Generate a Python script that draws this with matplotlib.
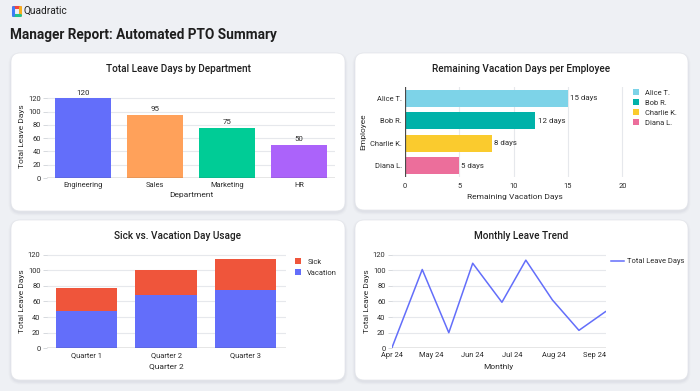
import matplotlib
matplotlib.use("Agg")
import matplotlib.pyplot as plt
from matplotlib.patches import FancyBboxPatch, Patch
import matplotlib.dates as mdates
import numpy as np
import pandas as pd

plt.rcParams['font.family'] = ['Roboto', 'DejaVu Sans']

# ---------------- data ----------------
departments = ["Engineering", "Sales", "Marketing", "HR"]
dept_leave = [120, 95, 75, 50]
dept_colors = ["#636EFA", "#FFA15A", "#00CC96", "#AB63FA"]

employees = ["Alice T.", "Bob R.", "Charlie K.", "Diana L."]
remaining_days = [15, 12, 8, 5]
emp_colors = ["#7DD3E8", "#00B2A9", "#FACB2E", "#EC6E9B"]

quarters = ["Quarter 1", "Quarter 2", "Quarter 3"]
vacation_days = [48, 68, 75]
sick_days = [29, 32, 40]

trend_dates = ["2024-04-01", "2024-04-24", "2024-05-14", "2024-06-01", "2024-06-23",
               "2024-07-11", "2024-07-31", "2024-08-20", "2024-09-09"]
trend_values = [0, 101, 20, 109, 59, 113, 62, 23, 47]

W, H = 700, 391
fig = plt.figure(figsize=(W / 100, H / 100), dpi=100)
fig.patch.set_facecolor("#EEF0F4")

TXT = "#2B2B2B"
GRID = "#E6E8EC"
AXL = "#4A4A4A"

# background pixel-space axes
bg = fig.add_axes([0, 0, 1, 1])
bg.set_xlim(0, W)
bg.set_ylim(H, 0)
bg.axis("off")
bg.set_zorder(-10)


def card(l, t, r, b):
    for i, a in enumerate([0.05, 0.04, 0.03]):
        e = 1 + i
        bg.add_patch(FancyBboxPatch((l - e + 0.5, t - e + 2.5), r - l + 2 * e - 1, b - t + 2 * e - 1,
                                    boxstyle="round,pad=0,rounding_size=%g" % (9 + e),
                                    fc="#7A8090", ec="none", alpha=a))
    bg.add_patch(FancyBboxPatch((l, t), r - l, b - t,
                                boxstyle="round,pad=0,rounding_size=9",
                                fc="white", ec="#E3E5EA", lw=0.5))


card(11, 53, 345, 211)
card(355, 53, 688, 210)
card(11, 220, 345, 380)
card(355, 220, 688, 380)

# header
logo_cols = ["#F2453D", "#F6B01E", "#22C38E", "#3D7BF7"]
bg.plot([12.5, 19.5], [6.5, 6.5], color=logo_cols[0], lw=2.2, solid_capstyle="round")
bg.plot([19.5, 19.5], [6.5, 14.5], color=logo_cols[1], lw=2.2, solid_capstyle="round")
bg.plot([19.5, 12.5], [14.5, 14.5], color=logo_cols[2], lw=2.2, solid_capstyle="round")
bg.plot([12.5, 12.5], [14.5, 6.5], color=logo_cols[3], lw=2.2, solid_capstyle="round")
bg.text(24, 11, "Quadratic", fontsize=7.3, color="#1E1E1E", va="center", ha="left")
bg.text(10.5, 35, "Manager Report: Automated PTO Summary", fontsize=9.8, fontweight="bold",
        color="#1E1E1E", va="center", ha="left")


def px_axes(l, t, r, b):
    return fig.add_axes([l / W, 1 - b / H, (r - l) / W, (b - t) / H])


def style(ax):
    for s in ax.spines.values():
        s.set_visible(False)
    ax.tick_params(labelsize=5.4, colors=TXT, length=3, width=0.6, color="#D0D3D8", pad=1.5)
    ax.set_facecolor("none")


TS = 7.2  # title size
LS = 6.0  # axis label size

# ---------- Total Leave Days by Department ----------
ax1 = px_axes(47, 94.4, 335, 178)
style(ax1)
x1 = np.arange(len(departments))
ax1.bar(x1, dept_leave, width=0.77, color=dept_colors, zorder=3)
ax1.set_xlim(-0.5, len(departments) - 0.5)
ax1.set_ylim(0, 126)
ax1.set_yticks(range(0, 121, 20))
ax1.set_xticks(x1)
ax1.set_xticklabels(departments)
ax1.tick_params(axis="x", length=0, pad=3)
ax1.grid(axis="y", color=GRID, lw=0.8, zorder=0)
ax1.axhline(0, color=AXL, lw=0.9, zorder=4)
for xi, v in zip(x1, dept_leave):
    ax1.annotate(str(v), (xi, v), xytext=(0, 2), textcoords="offset points",
                 ha="center", va="bottom", fontsize=5.7, color=TXT)
ax1.set_xlabel("Department", fontsize=LS, color=TXT, labelpad=2)
ax1.set_ylabel("Total Leave Days", fontsize=LS, color=TXT, labelpad=2)
bg.text(178, 69, "Total Leave Days by Department", fontsize=TS, fontweight="medium",
        color="#1E1E1E", ha="center", va="center")

# ---------- Remaining Vacation Days per Employee ----------
ax2 = px_axes(405, 87, 624.6, 177)
style(ax2)
y2 = np.arange(len(employees))
ax2.barh(y2, remaining_days, height=0.76, color=emp_colors, zorder=3)
ax2.set_ylim(len(employees) - 0.5, -0.5)
ax2.set_xlim(0, 20.2)
ax2.set_xticks([0, 5, 10, 15, 20])
ax2.set_yticks(y2)
ax2.set_yticklabels(employees)
ax2.tick_params(axis="y", length=0, pad=2)
ax2.tick_params(axis="x", length=0, pad=4)
ax2.grid(axis="x", color=GRID, lw=0.8, zorder=0)
ax2.axvline(0, color=AXL, lw=0.9, zorder=4)
for yi, v in zip(y2, remaining_days):
    ax2.annotate(f"{v} days", (v, yi), xytext=(1.5, 0), textcoords="offset points",
                 ha="left", va="center", fontsize=5.7, color=TXT)
ax2.set_xlabel("Remaining Vacation Days", fontsize=LS, color=TXT, labelpad=3)
ax2.set_ylabel("Employee", fontsize=LS, color=TXT, labelpad=3)
handles2 = [Patch(fc=c, ec="none", label=n) for c, n in zip(emp_colors, employees)]
ax2.legend(handles=handles2, loc="upper left", bbox_to_anchor=(633 / W, 1 - 89 / H),
           bbox_transform=fig.transFigure, frameon=False, fontsize=5.4,
           handlelength=0.75, handleheight=0.85, handletextpad=0.9, labelspacing=0.32,
           borderaxespad=0, borderpad=0, labelcolor=TXT)
bg.text(521.5, 69, "Remaining Vacation Days per Employee", fontsize=TS, fontweight="medium",
        color="#1E1E1E", ha="center", va="center")

# ---------- Sick vs. Vacation Day Usage ----------
ax3 = px_axes(46.7, 253.9, 285.5, 348.3)
style(ax3)
x3 = np.arange(len(quarters))
ax3.bar(x3, vacation_days, width=0.77, color="#636EFA", zorder=3, label="Vacation")
ax3.bar(x3, sick_days, width=0.77, bottom=vacation_days, color="#EF553B", zorder=3, label="Sick")
ax3.set_xlim(-0.5, len(quarters) - 0.5)
ax3.set_ylim(0, 121)
ax3.set_yticks(range(0, 121, 20))
ax3.set_xticks(x3)
ax3.set_xticklabels(quarters)
ax3.tick_params(axis="x", length=0, pad=3)
ax3.grid(axis="y", color=GRID, lw=0.8, zorder=0)
ax3.axhline(0, color=AXL, lw=0.9, zorder=4)
ax3.set_xlabel("Quarter 2", fontsize=LS, color=TXT, labelpad=3)
ax3.set_ylabel("Total Leave Days", fontsize=LS, color=TXT, labelpad=2)
handles3 = [Patch(fc="#EF553B", ec="none", label="Sick"),
            Patch(fc="#636EFA", ec="none", label="Vacation")]
ax3.legend(handles=handles3, loc="upper left", bbox_to_anchor=(295 / W, 1 - 258 / H),
           bbox_transform=fig.transFigure, frameon=False, fontsize=5.4,
           handlelength=0.75, handleheight=0.85, handletextpad=0.9, labelspacing=0.45,
           borderaxespad=0, borderpad=0, labelcolor=TXT)
bg.text(178, 236, "Sick vs. Vacation Day Usage", fontsize=TS, fontweight="medium",
        color="#1E1E1E", ha="center", va="center")

# ---------- Monthly Leave Trend ----------
ax4 = px_axes(391.7, 253.9, 605.5, 348.3)
style(ax4)
dts = pd.to_datetime(trend_dates)
ax4.plot(dts, trend_values, color="#636EFA", lw=1.1, zorder=3, label="Total Leave Days")
ax4.set_xlim(dts[0], dts[-1])
ax4.set_ylim(0, 121)
ax4.set_yticks(range(0, 121, 20))
ax4.xaxis.set_major_locator(mdates.MonthLocator())
ax4.xaxis.set_major_formatter(mdates.DateFormatter("%b %y"))
ax4.tick_params(axis="x", length=0, pad=3)
ax4.grid(axis="y", color=GRID, lw=0.8, zorder=0)
ax4.axhline(0, color=AXL, lw=0.9, zorder=4)
ax4.set_xlabel("Monthly", fontsize=LS, color=TXT, labelpad=3)
ax4.set_ylabel("Total Leave Days", fontsize=LS, color=TXT, labelpad=2)
ax4.legend(loc="upper left", bbox_to_anchor=(611 / W, 1 - 258 / H),
           bbox_transform=fig.transFigure, frameon=False, fontsize=5.4,
           handlelength=1.7, handletextpad=0.4, borderaxespad=0, borderpad=0, labelcolor=TXT)
bg.text(521.5, 236, "Monthly Leave Trend", fontsize=TS, fontweight="medium",
        color="#1E1E1E", ha="center", va="center")

fig.savefig("out.png", dpi=100, facecolor=fig.get_facecolor())
